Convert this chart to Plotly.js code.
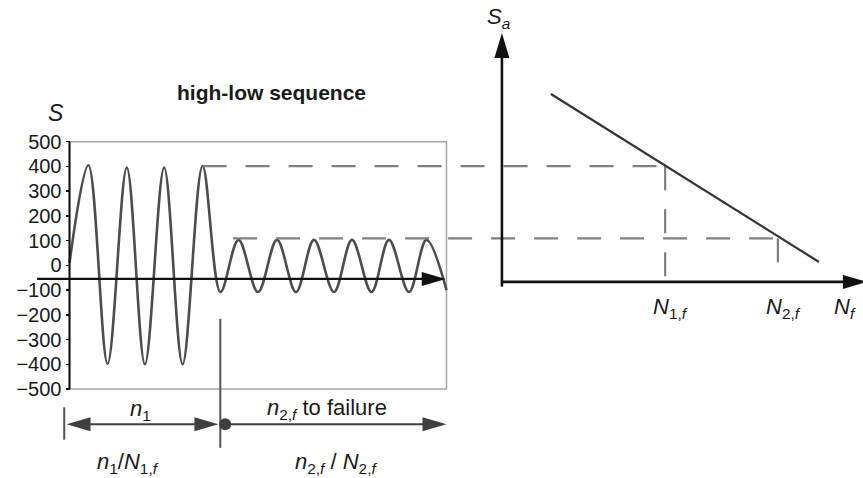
<!DOCTYPE html>
<html>
<head>
<meta charset="utf-8">
<script src="https://cdn.plot.ly/plotly-3.0.1.min.js"></script>
<style>html,body{margin:0;padding:0;background:#fff;}#chart{width:863px;height:478px;}</style>
</head>
<body>
<div id="chart"></div>
<script>
// ---------- Data ----------
// Left panel: stress history S vs. cycles (extrema of the loading, high-low sequence)
const cycles = [0, 0.50, 1.01, 1.52, 2.00, 2.51, 3.00, 3.53, 4.005, 4.483, 5.00, 5.504, 6.008, 6.485, 7.016, 7.493, 8.011, 8.475, 9.005, 9.469, 10.0];
const stress = [10, 405, -398, 395, -400, 395, -400, 402, -108, 103, -108, 103, -108, 103, -108, 103, -108, 103, -108, 103, -100];
const sTicks = [500, 400, 300, 200, 100, 0, -100, -200, -300, -400, -500];
const sTickText = ['500', '400', '300', '200', '100', '0', '\u2212100', '\u2212200', '\u2212300', '\u2212400', '\u2212500'];
const blockEnd = 4.0;          // end of the n1 block (cycles)
const seqEnd = 10.0;           // failure
// Amplitude levels and where their dashed guides start
const ampLevels = [401, 109];
const levelStart = [3.53, 4.34];
// Right panel: S-N curve (shared horizontal scale, origin at the Sa axis)
const snNf = [12.77, 19.88];
const snSa = [693, 13.5];
const nfLevels = [15.80, 18.79];   // N1,f and N2,f
const nfDropEnd = [-67, 8];        // lower end of the vertical guides
// Axis geometry
const timeAxisS = -55;
const timeAxisStart = -0.86;
const saAxisX = 11.47;
const nfAxisS = -67;
const saAxisTop = 940;
const saAxisBottom = -86;
const nfAxisTip = 21.15;
const rowS = -643;                  // bottom arrow row
const rowStart = -0.14;

// ---------- Styles ----------
const dark = '#3f3f3f';
const dashGray = '#7f7f7f';
const boxGray = '#a6a6a6';

const traces = [];
// stress history
traces.push({x: cycles, y: stress, mode: 'lines', line: {color: '#4d4d4d', width: 2.6, shape: 'spline', smoothing: 1}, hoverinfo: 'skip'});
// dashed horizontal guides
for (let i = 0; i < ampLevels.length; i++) {
  traces.push({x: [levelStart[i], nfLevels[i]], y: [ampLevels[i], ampLevels[i]], mode: 'lines',
    line: {color: dashGray, width: 2.2, dash: '24px,19px'}, hoverinfo: 'skip'});
  traces.push({x: [nfLevels[i], nfLevels[i]], y: [ampLevels[i], nfDropEnd[i]], mode: 'lines',
    line: {color: dashGray, width: 2.2, dash: '24px,19px'}, hoverinfo: 'skip'});
}
// S-N curve
traces.push({x: snNf, y: snSa, mode: 'lines', line: {color: '#333', width: 2.2}, hoverinfo: 'skip'});
// left axis line of the stress panel
traces.push({x: [0, 0], y: [sTicks[sTicks.length - 1], sTicks[0]], mode: 'lines', line: {color: '#111', width: 2}, hoverinfo: 'skip'});
// time axis
traces.push({x: [timeAxisStart, seqEnd - 0.3], y: [timeAxisS, timeAxisS], mode: 'lines', line: {color: '#111', width: 2.2}, hoverinfo: 'skip'});
// Sa / Nf axes
traces.push({x: [saAxisX, saAxisX], y: [saAxisBottom, saAxisTop - 60], mode: 'lines', line: {color: '#111', width: 2.6}, hoverinfo: 'skip'});
traces.push({x: [saAxisX, nfAxisTip - 0.3], y: [nfAxisS, nfAxisS], mode: 'lines', line: {color: '#111', width: 2.6}, hoverinfo: 'skip'});
// block separator and bottom arrows
traces.push({x: [blockEnd, blockEnd], y: [-216, -738], mode: 'lines', line: {color: '#555', width: 2}, hoverinfo: 'skip'});
traces.push({x: [rowStart, rowStart], y: [-574, -705], mode: 'lines', line: {color: '#555', width: 2}, hoverinfo: 'skip'});
traces.push({x: [rowStart + 0.3, blockEnd - 0.3], y: [rowS, rowS], mode: 'lines', line: {color: dark, width: 2}, hoverinfo: 'skip'});
traces.push({x: [blockEnd, seqEnd - 0.3], y: [rowS, rowS], mode: 'lines', line: {color: dark, width: 2}, hoverinfo: 'skip'});
traces.push({x: [blockEnd + 0.13], y: [rowS], mode: 'markers', marker: {color: dark, size: 12}, hoverinfo: 'skip'});

function head(x, y, dir, color) {
  const p = {right: 'M0,0L-24,7L-24,-7Z', left: 'M0,0L24,7L24,-7Z', up: 'M0,0L-7.5,-25L7.5,-25Z'}[dir];
  return {type: 'path', xref: 'x', yref: 'y', xsizemode: 'pixel', ysizemode: 'pixel', xanchor: x, yanchor: y,
    path: p, fillcolor: color, line: {width: 0}};
}
const shapes = [
  {type: 'rect', xref: 'x', yref: 'y', x0: 0, x1: seqEnd, y0: sTicks[sTicks.length - 1], y1: sTicks[0], line: {color: boxGray, width: 1.5}, layer: 'below'},
  head(seqEnd - 0.02, timeAxisS, 'right', '#111'),
  head(saAxisX, saAxisTop, 'up', '#111'),
  head(nfAxisTip, nfAxisS, 'right', '#111'),
  head(rowStart + 0.06, rowS, 'left', dark),
  head(blockEnd - 0.05, rowS, 'right', dark),
  head(seqEnd, rowS, 'right', dark)
];

const f = 'Liberation Sans, Arial, sans-serif';
function ann(x, y, text, size, extra) {
  return Object.assign({x: x, y: y, xref: 'x', yref: 'y', text: text, showarrow: false,
    font: {family: f, size: size, color: '#1a1a1a'}, xanchor: 'center', yanchor: 'middle'}, extra || {});
}
const annotations = [
  ann(5.37, 697, '<b>high-low sequence</b>', 21),
  ann(-0.37, 616, '<i>S</i>', 23),
  ann(1.87, -585, '<i>n</i><sub>1</sub>', 22),
  ann(6.84, -580, '<i>n</i><sub>2,<i>f</i></sub> to failure', 22),
  ann(1.54, -800, '<i>n</i><sub>1</sub>/<i>N</i><sub>1,<i>f</i></sub>', 22),
  ann(7.07, -800, '<i>n</i><sub>2,<i>f</i></sub> / <i>N</i><sub>2,<i>f</i></sub>', 22),
  ann(nfLevels[0] + 0.15, -172, '<i>N</i><sub>1,<i>f</i></sub>', 22),
  ann(nfLevels[1] + 0.16, -172, '<i>N</i><sub>2,<i>f</i></sub>', 22),
  ann(20.58, -172, '<i>N</i><sub><i>f</i></sub>', 22),
  ann(saAxisX - 0.08, 1000, '<i>S</i><sub><i>a</i></sub>', 22)
];

const layout = {
  width: 863, height: 478,
  margin: {l: 0, r: 0, t: 0, b: 0, pad: 0},
  paper_bgcolor: '#fff', plot_bgcolor: '#fff',
  showlegend: false,
  xaxis: {domain: [0, 1], range: [-69.5 / 37.7, (863 - 69.5) / 37.7], visible: false, fixedrange: true},
  yaxis: {domain: [0, 1], range: [-859.9, 1073.0], anchor: 'free', position: 69.5 / 863,
    tickvals: sTicks, ticktext: sTickText, ticks: 'outside', ticklen: 4, tickwidth: 1.5, tickcolor: '#111',
    showline: false, showgrid: false, zeroline: false, fixedrange: true,
    tickfont: {family: f, size: 20, color: '#1a1a1a'}},
  shapes: shapes,
  annotations: annotations
};

Plotly.newPlot('chart', traces, layout, {displayModeBar: false, staticPlot: true});
</script>
</body>
</html>
